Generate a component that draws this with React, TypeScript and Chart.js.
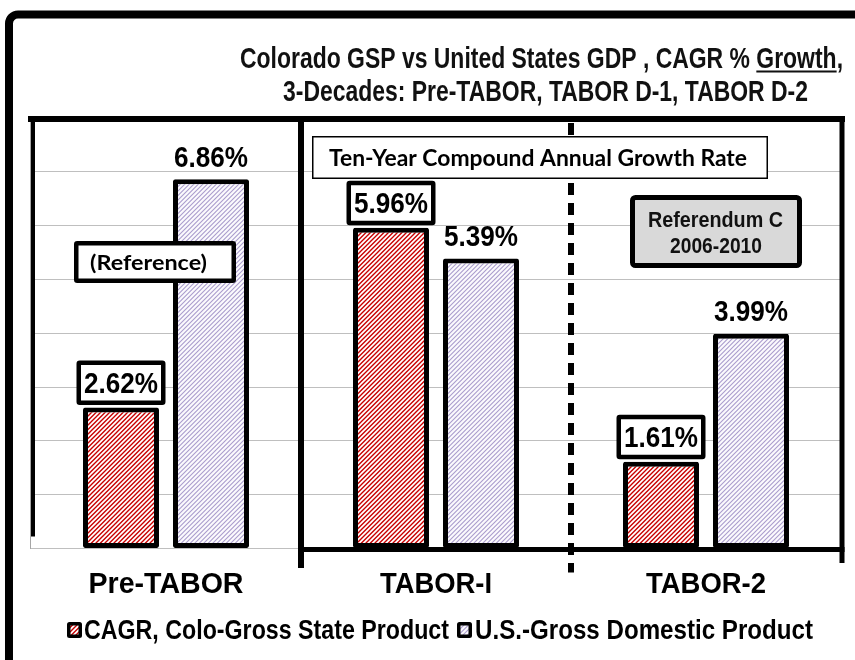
import React, { useEffect, useRef } from "react";
import { Chart, registerables } from "chart.js";

Chart.register(...registerables);

// ---------------- data ----------------
const categories = ["Pre-TABOR", "TABOR-I", "TABOR-2"];
const coloGSP = [2.62, 5.96, 1.61];
const usGDP = [6.86, 5.39, 3.99];
const seriesNames = ["CAGR, Colo-Gross State Product", "U.S.-Gross Domestic Product"];
const titleLines = [
  "Colorado GSP vs United States GDP , CAGR % Growth,",
  "3-Decades: Pre-TABOR, TABOR D-1, TABOR D-2",
];
const underlinedWord = "Growth";
const yMin = 0;
const yMax = 8;
const yStep = 1;
const noteReference = "(Reference)";
const noteTenYear = "Ten-Year Compound Annual Growth Rate";
const noteReferendum = ["Referendum C", "2006-2010"];

// ---------------- helpers ----------------
const ARIAL = "'Liberation Sans', Arial, sans-serif";
const CALIBRI = "Lato, 'Open Sans', sans-serif";

function makeHatch(line: string, lw: number, bg: string) {
  const c = document.createElement("canvas");
  c.width = 9;
  c.height = 9;
  const g = c.getContext("2d")!;
  g.fillStyle = bg;
  g.fillRect(0, 0, 9, 9);
  g.strokeStyle = line;
  g.lineWidth = lw;
  g.beginPath();
  for (let k = -2; k <= 6; k++) {
    const cc = k * 4.5;
    g.moveTo(cc + 2, -2);
    g.lineTo(cc - 11, 11);
  }
  g.stroke();
  return g.createPattern(c, "repeat")!;
}

function fitText(
  ctx: CanvasRenderingContext2D,
  s: string,
  left: number,
  baseline: number,
  font: string,
  width: number | null,
  color = "#000"
) {
  ctx.save();
  ctx.font = font;
  const w = ctx.measureText(s).width;
  const sx = width ? width / w : 1;
  ctx.translate(left, baseline);
  ctx.scale(sx, 1);
  ctx.fillStyle = color;
  ctx.textAlign = "left";
  ctx.textBaseline = "alphabetic";
  ctx.fillText(s, 0, 0);
  ctx.restore();
  return sx;
}

function centerText(
  ctx: CanvasRenderingContext2D,
  s: string,
  cx: number,
  baseline: number,
  font: string,
  width: number | null,
  color = "#000"
) {
  ctx.save();
  ctx.font = font;
  const w = width ?? ctx.measureText(s).width;
  ctx.restore();
  fitText(ctx, s, cx - w / 2, baseline, font, width, color);
}

function box(
  ctx: CanvasRenderingContext2D,
  x0: number,
  y0: number,
  x1: number,
  y1: number,
  lw: number,
  fill: string,
  r = 1
) {
  const h = lw / 2;
  ctx.save();
  ctx.beginPath();
  ctx.roundRect(x0 + h, y0 + h, x1 - x0 - lw, y1 - y0 - lw, r);
  ctx.fillStyle = fill;
  ctx.fill();
  ctx.lineWidth = lw;
  ctx.strokeStyle = "#000";
  ctx.stroke();
  ctx.restore();
}

function line(
  ctx: CanvasRenderingContext2D,
  x0: number,
  y0: number,
  x1: number,
  y1: number,
  lw: number,
  color = "#000",
  dash: number[] = []
) {
  ctx.save();
  ctx.beginPath();
  ctx.setLineDash(dash);
  ctx.moveTo(x0, y0);
  ctx.lineTo(x1, y1);
  ctx.lineWidth = lw;
  ctx.strokeStyle = color;
  ctx.stroke();
  ctx.restore();
}

const fmt = (v: number) => v.toFixed(2) + "%";

// ---------------- decoration plugin ----------------
const decor = {
  id: "decor",
  beforeDraw(chart: any) {
    const ctx: CanvasRenderingContext2D = chart.ctx;
    ctx.save();
    ctx.fillStyle = "#fff";
    ctx.fillRect(0, 0, chart.width, chart.height);
    // outer frame (runs off the right and bottom edges)
    ctx.beginPath();
    ctx.roundRect(9, 14.5, 900, 700, 9);
    ctx.lineWidth = 8;
    ctx.strokeStyle = "#000";
    ctx.stroke();
    ctx.restore();

    // title
    const f = `bold 30px ${ARIAL}`;
    const sx = fitText(ctx, titleLines[0], 240, 68, f, 603, "#111");
    ctx.save();
    ctx.font = f;
    const idx = titleLines[0].indexOf(underlinedWord);
    const pre = ctx.measureText(titleLines[0].slice(0, idx)).width * sx;
    const wd = ctx.measureText(underlinedWord).width * sx;
    ctx.restore();
    line(ctx, 240 + pre, 71.5, 240 + pre + wd, 71.5, 2, "#111");
    fitText(ctx, titleLines[1], 283, 100.5, f, 525, "#111");
  },
  afterDatasetsDraw(chart: any) {
    const ctx: CanvasRenderingContext2D = chart.ctx;
    const a = chart.chartArea;
    const xs = chart.scales.x;
    const p0 = xs.getPixelForValue(0);
    const p1 = xs.getPixelForValue(1);
    const p2 = xs.getPixelForValue(2);
    const div1 = (p0 + p1) / 2;
    const div2 = (p1 + p2) / 2;

    // thin grey left edge of first section
    line(ctx, a.left - 0.5, a.top, a.left - 0.5, a.bottom + 0.5, 1, "#a6a6a6");
    // left black line
    line(ctx, a.left + 2, a.top, a.left + 2, a.bottom - 12, 4);
    // top thick line
    line(ctx, a.left - 3, a.top + 1, a.right + 4, a.top + 1, 6);
    // section divider
    line(ctx, div1, a.top - 2, div1, a.bottom + 19.5, 6);
    // right line
    line(ctx, a.right + 1, a.top - 2, a.right + 1, a.bottom + 14.5, 5);
    // dashed divider
    line(ctx, div2, a.top + 5, div2, a.bottom + 24, 6, "#000", [12, 8]);
    // thick baseline for TABOR sections
    line(ctx, div1 - 3, a.bottom + 1, a.right + 3.5, a.bottom + 1, 5);

    // data labels
    const m0 = chart.getDatasetMeta(0);
    const m1 = chart.getDatasetMeta(1);
    const vfont = `bold 29px ${ARIAL}`;
    m0.data.forEach((el: any, i: number) => {
      box(ctx, el.x - 44.5, el.y - 47, el.x + 44.5, el.y - 2.5, 4.5, "#fff", 1);
      centerText(ctx, fmt(coloGSP[i]), el.x, el.y - 14.5, vfont, 74);
    });
    m1.data.forEach((el: any, i: number) => {
      centerText(ctx, fmt(usGDP[i]), el.x, el.y - 12.5, vfont, 74);
    });

    // notes
    box(ctx, 74, 241, 236, 283, 4.5, "#fff", 1);
    centerText(ctx, noteReference, 148.5, 270, `bold 20px ${CALIBRI}`, 117);

    box(ctx, 312, 136, 768, 179, 1.5, "#fff", 0);
    fitText(ctx, noteTenYear, 329, 166, `bold 22px ${CALIBRI}`, 418);

    box(ctx, 630, 195, 802, 268, 5, "#d9d9d9", 3);
    centerText(ctx, noteReferendum[0], 715.5, 227, `bold 22px ${ARIAL}`, 135, "#111");
    centerText(ctx, noteReferendum[1], 716, 253, `bold 22px ${ARIAL}`, 92, "#111");

    // category labels
    const catW = [155, 112, 120];
    categories.forEach((c, i) => {
      centerText(ctx, c, xs.getPixelForValue(i), 592.5, `bold 29px ${ARIAL}`, catW[i]);
    });

    // legend
    const ds = chart.data.datasets;
    const legendItems = [
      { ix: 67, tx: 84, tw: 365 },
      { ix: 457, tx: 475, tw: 338 },
    ];
    legendItems.forEach((it, i) => {
      ctx.save();
      ctx.beginPath();
      ctx.roundRect(it.ix, 622, 15, 16, 2.5);
      ctx.fillStyle = "#000";
      ctx.fill();
      ctx.fillStyle = ds[i].backgroundColor;
      ctx.fillRect(it.ix + 3.5, 625.5, 8, 9);
      ctx.restore();
      fitText(ctx, ds[i].label, it.tx, 639, `bold 27px ${ARIAL}`, it.tw);
    });
  },
};

export default function App() {
  const ref = useRef<HTMLCanvasElement>(null);
  useEffect(() => {
    const canvas = ref.current!;
    const redPat = makeHatch("#c80000", 1.4, "#ffffff");
    const purPat = makeHatch("#ab9dcd", 1.1, "#fbfafd");
    const chart = new Chart(canvas, {
      type: "bar",
      data: {
        labels: categories,
        datasets: [
          {
            label: seriesNames[0],
            data: coloGSP,
            backgroundColor: redPat as any,
            borderColor: "#000",
            borderWidth: 5,
            borderSkipped: false,
            borderRadius: 2,
          },
          {
            label: seriesNames[1],
            data: usGDP,
            backgroundColor: purPat as any,
            borderColor: "#000",
            borderWidth: 5,
            borderSkipped: false,
            borderRadius: 2,
          },
        ],
      },
      options: {
        responsive: false,
        maintainAspectRatio: false,
        animation: false,
        devicePixelRatio: 1,
        layout: { padding: { left: 31, right: 14, top: 118, bottom: 111.5 } },
        datasets: { bar: { categoryPercentage: 2 / 3, barPercentage: 0.8444 } },
        plugins: {
          legend: { display: false },
          title: { display: false },
          tooltip: { enabled: false },
        },
        scales: {
          x: { display: false },
          y: {
            min: yMin,
            max: yMax,
            ticks: { display: false, stepSize: yStep },
            grid: { color: "#bfbfbf", lineWidth: 1, drawTicks: false },
            border: { display: false },
            afterFit: (s: any) => {
              s.width = 0;
            },
          },
        },
      } as any,
      plugins: [decor],
    });
    return () => chart.destroy();
  }, []);
  return (
    <div style={{ position: "fixed", left: 0, top: 0, width: 855, height: 660, background: "#fff" }}>
      <canvas ref={ref} width={855} height={660} style={{ display: "block", width: 855, height: 660 }} />
    </div>
  );
}
